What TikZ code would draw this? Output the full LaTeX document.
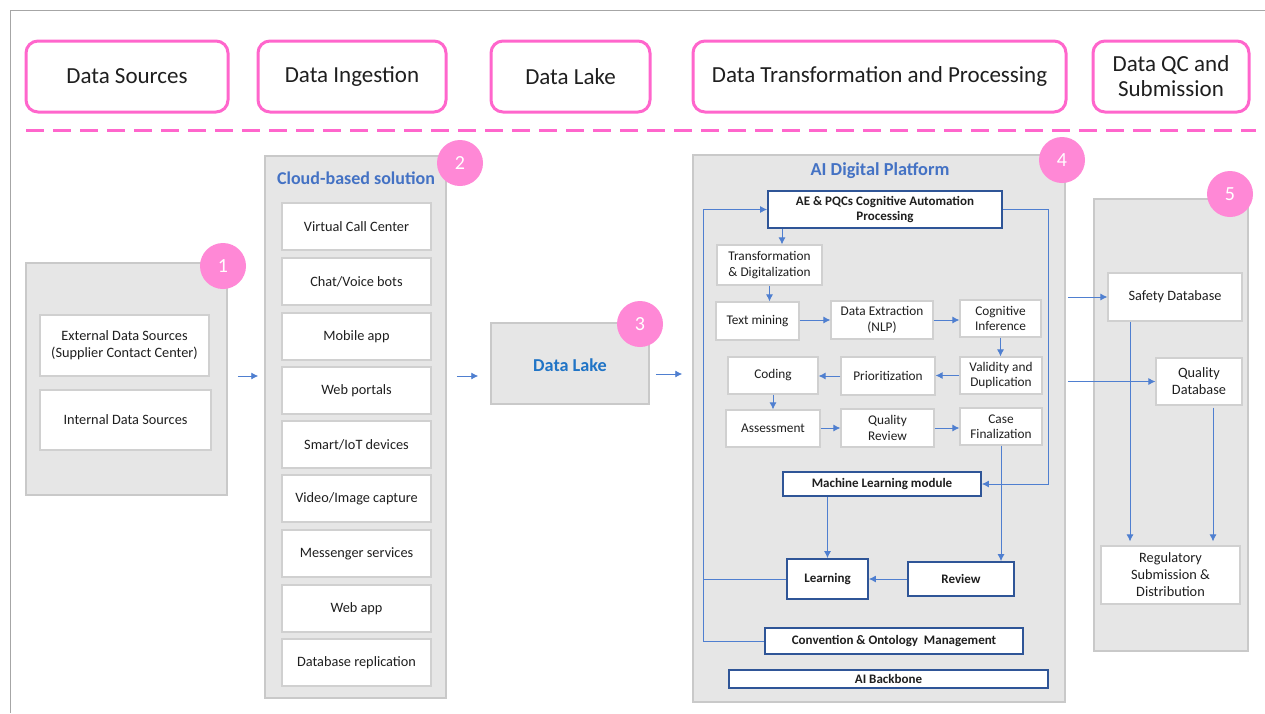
\documentclass[tikz,border=0pt]{standalone}
\usepackage{fontspec}
\setmainfont{Carlito}
\usetikzlibrary{arrows.meta}
\definecolor{pinkc}{HTML}{FF66CC}
\definecolor{pinkf}{HTML}{FF88D6}
\definecolor{grayf}{HTML}{E6E6E6}
\definecolor{grayd}{HTML}{C9C9C9}
\definecolor{grayl}{HTML}{D0D0D0}
\definecolor{framec}{HTML}{A6A6A6}
\definecolor{titleblue}{HTML}{4472C4}
\definecolor{lakeblue}{HTML}{2074C6}
\definecolor{dkblue}{HTML}{2F5597}
\definecolor{conn}{HTML}{4F7FD0}
\definecolor{txt}{HTML}{1F1F1F}
\newcommand\bx[7]{\node[#6, minimum width={#4-#2}, minimum height={#5-#3}] (#1) at ({(#2+#4)/2},{(#3+#5)/2}) {#7};}
\begin{document}
\begin{tikzpicture}[x=1pt,y=-1pt,
  hdr/.style={draw=pinkc, line width=3pt, rounded corners=12pt, fill=white, inner sep=0pt, align=center, text=txt, font=\fontsize{23}{25}\selectfont},
  grp/.style={fill=grayf, draw=grayd, line width=1.5pt, inner sep=0pt},
  wbox/.style={fill=white, draw=grayl, line width=1.2pt, inner sep=0pt, align=center, text=txt, font=\fontsize{14.3}{17}\selectfont},
  sbox/.style={wbox, font=\fontsize{13.3}{15.5}\selectfont},
  bbox/.style={fill=white, draw=dkblue, line width=1.8pt, inner sep=0pt, align=center, text=txt, font=\fontsize{13}{15.5}\selectfont\bfseries},
  num/.style={circle, fill=pinkf, text=white, minimum size=46pt, inner sep=0pt, font=\fontsize{20}{20}\selectfont},
  arr/.style={draw=conn, line width=0.9pt, -{Latex[length=7pt,width=7pt]}},
  lin/.style={draw=conn, line width=0.9pt},
  ttl/.style={text=titleblue, font=\fontsize{18}{20}\selectfont\bfseries}
]
\useasboundingbox (0,0) rectangle (1265,713);
\draw[framec, line width=1pt] (10,713) -- (10,10) -- (1265,10);

% headers
\bx{h1}{26}{41}{228}{112}{hdr}{Data Sources}
\bx{h2}{258}{41}{446}{112}{hdr}{Data Ingestion}
\bx{h3}{491}{41}{650}{112}{hdr}{Data Lake}
\bx{h4}{693}{41}{1066}{112}{hdr}{Data Transformation and Processing}
\bx{h5}{1093}{41}{1249}{112}{hdr}{Data QC and\\Submission}
\draw[pinkc, line width=3pt, dash pattern=on 18pt off 9pt] (26,130) -- (1256,130);

% section 1
\bx{g1}{26}{263}{227}{495}{grp}{}
\bx{ext}{40}{315}{209}{376}{wbox}{External Data Sources\\(Supplier Contact Center)}
\bx{int}{40}{390}{211}{450}{wbox}{Internal Data Sources}
\node[num] (n1) at (223,266) {1};

% section 2
\bx{g2}{265}{156}{446}{698}{grp}{}
\node[ttl] (t2) at (356,178) {Cloud-based solution};
\bx{i1}{282}{203}{431}{250}{wbox}{Virtual Call Center}
\bx{i2}{282}{258}{431}{305}{wbox}{Chat/Voice bots}
\bx{i3}{282}{313}{431}{360}{wbox}{Mobile app}
\bx{i4}{282}{367}{431}{414}{wbox}{Web portals}
\bx{i5}{282}{421}{431}{468}{wbox}{Smart/IoT devices}
\bx{i6}{282}{475}{431}{522}{wbox}{Video/Image capture}
\bx{i7}{282}{530}{431}{577}{wbox}{Messenger services}
\bx{i8}{282}{585}{431}{632}{wbox}{Web app}
\bx{i9}{282}{639}{431}{686}{wbox}{Database replication}
\node[num] (n2) at (460,163) {2};

% section 3
\bx{lake}{491}{323}{649}{404}{grp}{}
\node[text=lakeblue, font=\fontsize{18.2}{20}\selectfont\bfseries] (laket) at (570,365) {Data Lake};
\node[num] (n3) at (640,324) {3};

% section 4
\bx{g4}{693}{155}{1065}{702}{grp}{}
\node[ttl, font=\fontsize{18.3}{20}\selectfont\bfseries] (t4) at (880,171) {AI Digital Platform};
\node[num] (n4) at (1062,160) {4};
\bx{ae}{768}{191}{1002}{228}{bbox}{AE \& PQCs Cognitive Automation\\Processing}
\bx{trans}{717}{245}{822}{285}{sbox}{Transformation\\\& Digitalization}
\bx{tm}{716}{302}{799}{340}{sbox}{Text mining}
\bx{de}{831}{301}{933}{339}{sbox}{Data Extraction\\(NLP)}
\bx{ci}{960}{300}{1041}{337}{sbox}{Cognitive\\Inference}
\bx{vd}{960}{357}{1042}{394}{sbox}{Validity and\\Duplication}
\bx{pr}{841}{357}{935}{395}{sbox}{Prioritization}
\bx{cod}{728}{357}{818}{394}{sbox}{Coding}
\bx{as}{726}{410}{820}{447}{sbox}{Assessment}
\bx{qr}{841}{409}{934}{447}{sbox}{Quality\\Review}
\bx{cf}{960}{408}{1042}{445}{sbox}{Case\\Finalization}
\bx{ml}{783}{472}{981}{496}{bbox}{Machine Learning module}
\bx{lrn}{787}{559}{868}{599}{bbox}{Learning}
\bx{rev}{908}{562}{1014}{596}{bbox}{Review}
\bx{conv}{765}{628}{1023}{654}{bbox}{Convention \& Ontology\ \ Management}
\bx{aib}{729}{670}{1048}{688}{bbox}{AI Backbone}

\coordinate (lx) at (703,0);
\coordinate (rx) at (1048,0);
\coordinate (ax) at (782,0);
\draw[arr] (ae.south -| ax) -- (trans.north -| ax);
\draw[arr] (trans.south) -- (trans.south |- tm.north);
\draw[arr] (tm.east |- de.west) -- (de.west);
\draw[arr] (de.east) -- (de.east -| ci.west);
\draw[arr] (ci.south) -- (ci.south |- vd.north);
\draw[arr] (vd.west) -- (vd.west -| pr.east);
\draw[arr] (pr.west) -- (pr.west -| cod.east);
\draw[arr] (cod.south) -- (cod.south |- as.north);
\draw[arr] (as.east |- qr.west) -- (qr.west);
\draw[arr] (qr.east) -- (qr.east -| cf.west);
\draw[arr] (cf.south) -- (cf.south |- rev.north);
\draw[arr] (ae.east) -| (rx |- ml.east) -- (ml.east);
\draw[arr] (lrn.north |- ml.south) -- (lrn.north);
\draw[arr] (rev.west) -- (rev.west -| lrn.east);
\draw[lin] (lrn.west) -- (lx |- lrn.west);
\draw[arr] (conv.west) -- (lx |- conv.west) |- (ae.west);

% section 5
\bx{g5}{1094}{199}{1248}{651}{grp}{}
\node[num] (n5) at (1230,194) {5};
\bx{sdb}{1108}{273}{1242}{321}{wbox}{Safety Database}
\bx{qdb}{1156}{358}{1242}{405}{wbox}{Quality\\Database}
\bx{reg}{1101}{546}{1240}{604}{wbox}{Regulatory\\Submission \&\\Distribution}
\coordinate (sx) at (1130,0);
\coordinate (qx) at (1213,0);
\draw[arr, shorten >=4pt] (sdb.south -| sx) -- (reg.north -| sx);
\draw[arr, shorten <=2pt, shorten >=4pt] (qdb.south -| qx) -- (reg.north -| qx);

% flow between sections
\coordinate (ya) at (0,376);
\coordinate (yb) at (0,374);
\draw[arr, shorten <=10pt, shorten >=6pt] (g1.east |- ya) -- (g2.west |- ya);
\draw[arr, shorten <=10pt, shorten >=12pt] (g2.east |- ya) -- (lake.west |- ya);
\draw[arr, shorten <=6pt, shorten >=10pt] (lake.east |- yb) -- (g4.west |- yb);
\draw[arr, shorten <=2pt] (g4.east |- sdb.west) -- (sdb.west);
\draw[arr, shorten <=2pt] (g4.east |- qdb.west) -- (qdb.west);
\end{tikzpicture}
\end{document}
